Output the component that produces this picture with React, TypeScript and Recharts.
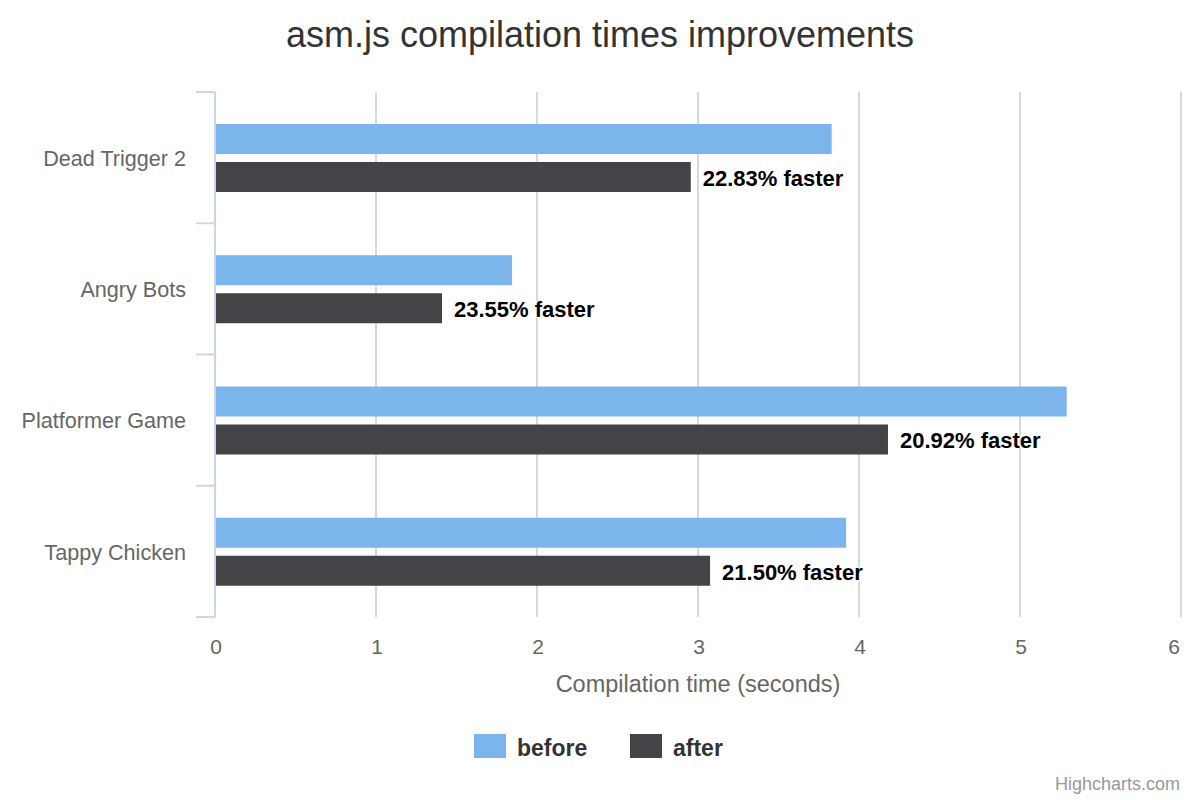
import { BarChart, Bar, XAxis, YAxis, CartesianGrid, LabelList } from 'recharts';

const games = ['Dead Trigger 2', 'Angry Bots', 'Platformer Game', 'Tappy Chicken'];
const before = [3.83, 1.845, 5.29, 3.92];
const after = [2.955, 1.41, 4.18, 3.075];
const faster = [22.83, 23.55, 20.92, 21.5];
const xTicks = [0, 1, 2, 3, 4, 5, 6];

const seriesKeys = ['before', 'after'];
const seriesColors = ['#7cb5ec', '#434348'];

const data = games.map((name, i) => ({
  name,
  before: before[i],
  after: after[i],
  faster: faster[i],
}));

const W = 1200;
const H = 800;
const PLOT_TOP = 92;
const PLOT_BOTTOM = 617;
const Y_AXIS_W = 215;
const X_AXIS_H = 80;
const Y_TICK_MARGIN = 29;
const BAND = (PLOT_BOTTOM - PLOT_TOP) / games.length;

function CategoryTick(props: any) {
  const { x, y, payload, index } = props;
  const axisX = x + Y_TICK_MARGIN;
  return (
    <g>
      <line x1={axisX - 19} x2={axisX} y1={y - BAND / 2} y2={y - BAND / 2} stroke="#ccd6eb" strokeWidth={2} />
      {index === games.length - 1 && (
        <line x1={axisX - 19} x2={axisX} y1={y + BAND / 2} y2={y + BAND / 2} stroke="#ccd6eb" strokeWidth={2} />
      )}
      <text x={x} y={y} dy="0.38em" textAnchor="end" fill="#666666" fontSize={21.6}>
        {payload.value}
      </text>
    </g>
  );
}

function ValueTick(props: any) {
  const { x, y, payload } = props;
  const last = payload.value === xTicks[xTicks.length - 1];
  return (
    <text x={last ? x - 1 : x + 1} y={y} dy="0.71em" textAnchor={last ? 'end' : 'middle'} fill="#666666" fontSize={21}>
      {payload.value}
    </text>
  );
}

function FasterLabel(props: any) {
  const { x, y, width, height, value } = props;
  return (
    <text
      x={x + width + 12}
      y={y + height / 2}
      dy="0.4em"
      fontSize={22}
      fontWeight="bold"
      fill="#000000"
      stroke="#ffffff"
      strokeWidth={2}
      strokeLinejoin="round"
      paintOrder="stroke"
    >
      {`${Number(value).toFixed(2)}% faster`}
    </text>
  );
}

export default function App() {
  return (
    <div
      style={{
        position: 'absolute',
        left: 0,
        top: 0,
        width: W,
        height: H,
        background: '#fff',
        fontFamily: '"Liberation Sans", Arial, sans-serif',
      }}
    >
      <BarChart
        width={W}
        height={H}
        data={data}
        layout="vertical"
        margin={{ top: PLOT_TOP, right: 19, left: 0, bottom: H - PLOT_BOTTOM - X_AXIS_H }}
        barGap={8}
      >
        <CartesianGrid horizontal={false} stroke="#d8d8d8" strokeWidth={2} />
        <XAxis
          type="number"
          domain={[0, 6]}
          ticks={xTicks}
          interval={0}
          axisLine={false}
          tickLine={false}
          tickSize={0}
          tickMargin={22}
          height={X_AXIS_H}
          tick={<ValueTick />}
          label={{
            value: 'Compilation time (seconds)',
            position: 'insideBottom',
            offset: 5,
            fill: '#666666',
            fontSize: 23.5,
          }}
        />
        <YAxis
          type="category"
          dataKey="name"
          width={Y_AXIS_W}
          axisLine={{ stroke: '#ccd6eb', strokeWidth: 2 }}
          tickLine={false}
          tickSize={0}
          tickMargin={Y_TICK_MARGIN}
          interval={0}
          tick={<CategoryTick />}
        />
        <Bar dataKey="before" fill={seriesColors[0]} barSize={30} isAnimationActive={false} />
        <Bar dataKey="after" fill={seriesColors[1]} barSize={30} isAnimationActive={false}>
          <LabelList dataKey="faster" content={<FasterLabel />} />
        </Bar>
      </BarChart>
      <svg
        width={W}
        height={H}
        style={{ position: 'absolute', left: 0, top: 0, pointerEvents: 'none' }}
      >
        <text x={W / 2} y={47} textAnchor="middle" fontSize={36} fill="#333333">
          asm.js compilation times improvements
        </text>
        {seriesKeys.map((key, i) => {
          const x0 = i === 0 ? 474 : 630;
          return (
            <g key={key}>
              <rect x={x0} y={734} width={32} height={24} fill={seriesColors[i]} />
              <text x={x0 + 43} y={756} fontSize={23} fontWeight="bold" fill="#333333">
                {key}
              </text>
            </g>
          );
        })}
        <text x={1180} y={790} textAnchor="end" fontSize={18} fill="#999999">
          Highcharts.com
        </text>
      </svg>
    </div>
  );
}
